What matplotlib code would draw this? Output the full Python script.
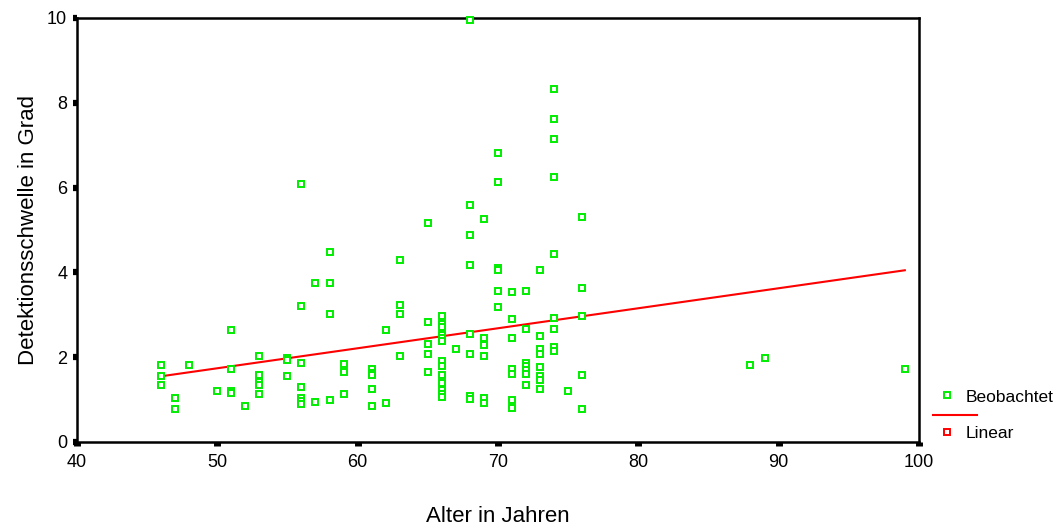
import matplotlib
matplotlib.use("Agg")
import matplotlib.pyplot as plt
from matplotlib.lines import Line2D

plt.rcParams['font.family'] = ['Liberation Sans', 'DejaVu Sans']

alter = [46, 46, 46,
         47, 47,
         48,
         50,
         51, 51, 51, 51,
         52,
         53, 53, 53, 53, 53,
         55, 55, 55,
         56, 56, 56, 56, 56, 56, 56,
         57, 57,
         58, 58, 58, 58,
         59, 59, 59,
         61, 61, 61, 61, 61,
         62, 62,
         63, 63, 63, 63,
         65, 65, 65, 65, 65,
         66, 66, 66, 66, 66, 66, 66, 66, 66, 66, 66, 66, 66,
         67,
         68, 68, 68, 68, 68, 68, 68, 68,
         69, 69, 69, 69, 69, 69,
         70, 70, 70, 70, 70, 70,
         71, 71, 71, 71, 71, 71, 71,
         72, 72, 72, 72, 72, 72, 72,
         73, 73, 73, 73, 73, 73, 73, 73,
         74, 74, 74, 74, 74, 74, 74, 74, 74,
         75,
         76, 76, 76, 76, 76,
         88, 89, 99]
schwelle = [1.81, 1.55, 1.34,
            1.03, 0.77,
            1.81,
            1.20,
            2.63, 1.72, 1.20, 1.16,
            0.86,
            2.02, 1.59, 1.42, 1.34, 1.12,
            1.98, 1.93, 1.55,
            6.08, 3.20, 1.86, 1.29, 1.03, 0.96, 0.90,
            3.75, 0.94,
            4.48, 3.75, 3.01, 0.98,
            1.85, 1.64, 1.12,
            1.73, 1.63, 1.58, 1.24, 0.86,
            2.63, 0.91,
            4.30, 3.23, 3.01, 2.02,
            5.17, 2.84, 2.32, 2.07, 1.64,
            2.97, 2.79, 2.71, 2.53, 2.45, 2.37, 1.90, 1.79, 1.59, 1.38, 1.22, 1.14, 1.06,
            2.19,
            9.95, 5.60, 4.87, 4.18, 2.54, 2.07, 1.08, 1.02,
            5.26, 2.45, 2.28, 2.02, 1.04, 0.91,
            6.81, 6.12, 4.10, 4.05, 3.57, 3.19,
            3.53, 2.89, 2.45, 1.72, 1.60, 0.98, 0.81,
            3.57, 2.67, 1.86, 1.80, 1.69, 1.60, 1.34,
            4.05, 2.49, 2.19, 2.07, 1.76, 1.55, 1.46, 1.25,
            8.32, 7.62, 7.15, 6.25, 4.44, 2.93, 2.67, 2.24, 2.15,
            1.20,
            5.30, 3.62, 2.97, 1.59, 0.77,
            1.81, 1.98, 1.72]

# Linear: Endpunkte der Regressionsgeraden
linear_x = [46, 99]
linear_y = [1.55, 4.05]

xticks = [40, 50, 60, 70, 80, 90, 100]
yticks = [0, 2, 4, 6, 8, 10]

green = '#00ee00'
red = '#ff0000'

fig = plt.figure(figsize=(10.63, 5.32), dpi=100)
ax = fig.add_axes([0.0724, 0.1692, 0.792, 0.797])

ax.plot(linear_x, linear_y, color=red, lw=1.5, zorder=2)
ax.plot(alter, schwelle, ls='none', marker='s', ms=4, mfc='white',
        mec=green, mew=1.4, clip_on=False, zorder=3)

ax.set_xlim(40, 100)
ax.set_ylim(0, 10)
ax.set_xticks(xticks)
ax.set_yticks(yticks)
for s in ax.spines.values():
    s.set_linewidth(1.8)
ax.tick_params(axis='x', length=3, width=5, direction='out', pad=6, labelsize=13)
ax.tick_params(axis='y', length=3, width=4.5, direction='out', pad=4, labelsize=13)

ax.set_xlabel('Alter in Jahren', fontsize=16, labelpad=25)
ax.set_ylabel('Detektionsschwelle in Grad', fontsize=16, labelpad=6)

# Legende rechts neben dem Diagramm
fig.add_artist(Line2D([947 / 1063], [1 - 395 / 532], ls='none', marker='s', ms=4,
                      mfc='white', mec=green, mew=1.4))
fig.text(966 / 1063, 1 - 397 / 532, 'Beobachtet', fontsize=12.5, va='center', ha='left')
fig.add_artist(Line2D([933 / 1063, 977 / 1063], [1 - 415 / 532, 1 - 415 / 532],
                      color=red, lw=1.5))
fig.add_artist(Line2D([947 / 1063], [1 - 432 / 532], ls='none', marker='s', ms=4,
                      mfc='white', mec=red, mew=1.4))
fig.text(966 / 1063, 1 - 434 / 532, 'Linear', fontsize=12.5, va='center', ha='left')

fig.savefig('out.png', dpi=100)
